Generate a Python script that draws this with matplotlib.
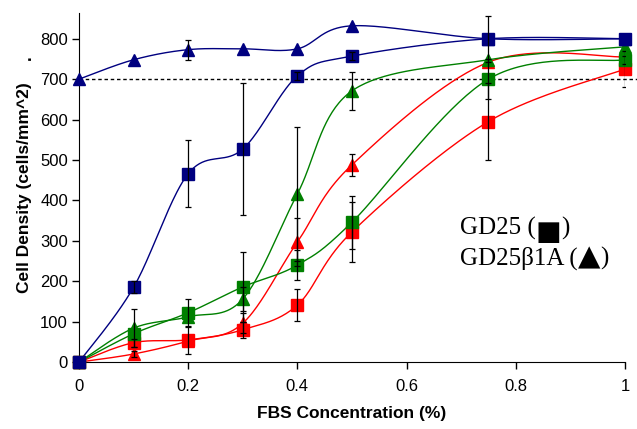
import numpy as np
import matplotlib.pyplot as plt

# datos
fbs = [0, 0.1, 0.2, 0.3, 0.4, 0.5, 0.75, 1]

gd25_azul = [0, 185, 466, 527, 708, 757, 800, 800]
gd25_azul_err = [0, 15, 83, 163, 10, 10, 57, 0]
b1a_azul = [700, 748, 773, 775, 775, 832, 800, 800]
b1a_azul_err = [0, 0, 25, 0, 0, 0, 0, 0]

gd25_verde = [0, 70, 122, 186, 240, 346, 700, 748]
gd25_verde_err = [0, 0, 35, 86, 38, 65, 50, 10]
b1a_verde = [0, 84, 112, 156, 416, 671, 748, 780]
b1a_verde_err = [0, 47, 0, 30, 165, 47, 0, 0]

gd25_rojo = [0, 48, 55, 80, 141, 322, 595, 725]
gd25_rojo_err = [0, 10, 35, 20, 40, 74, 95, 45]
b1a_rojo = [0, 20, 52, 96, 297, 488, 742, 755]
b1a_rojo_err = [0, 8, 0, 25, 60, 27, 0, 0]

xticks = [0, 0.2, 0.4, 0.6, 0.8, 1]
xtick_labels = ['0', '0.2', '0.4', '0.6', '0.8', '1']
yticks = [0, 100, 200, 300, 400, 500, 600, 700, 800]


def suavizar(xs, ys, n=40):
    # curva suavizada tipo Excel (Bezier por Catmull-Rom)
    P = np.column_stack([xs, ys]).astype(float)
    P = np.vstack([P[0], P, P[-1]])
    t = np.linspace(0, 1, n)[:, None]
    trozos = []
    for i in range(1, len(P) - 2):
        p0, p1, p2, p3 = P[i - 1], P[i], P[i + 1], P[i + 2]
        c1 = p1 + (p2 - p0) / 6
        c2 = p2 - (p3 - p1) / 6
        b = (1 - t)**3 * p1 + 3 * (1 - t)**2 * t * c1 + 3 * (1 - t) * t**2 * c2 + t**3 * p2
        trozos.append(b)
    return np.vstack(trozos)


plt.rcParams['font.family'] = ['Liberation Sans', 'DejaVu Sans']
fig = plt.figure(figsize=(6.37, 4.29), dpi=100)
ax = fig.add_axes([0.124, 0.156, 0.857, 0.814])

series = [
    (gd25_rojo, gd25_rojo_err, '#ff0000', 's'),
    (b1a_rojo, b1a_rojo_err, '#ff0000', '^'),
    (gd25_verde, gd25_verde_err, '#008000', 's'),
    (b1a_verde, b1a_verde_err, '#008000', '^'),
    (b1a_azul, b1a_azul_err, '#000080', '^'),
    (gd25_azul, gd25_azul_err, '#000080', 's'),
]

ax.plot([0, 1.025], [700, 700], color='black', lw=1, ls=(0, (2.5, 2)), clip_on=False, zorder=1)

for ys, errs, color, marker in series:
    curva = suavizar(fbs, ys)
    ax.plot(curva[:, 0], curva[:, 1], color=color, lw=1, zorder=2, clip_on=False)
    ax.plot(fbs, ys, ls='none', marker=marker, color=color, markersize=8.5, zorder=3, clip_on=False)

for ys, errs, color, marker in series:
    xs = [x for x, e in zip(fbs, errs) if e > 0]
    yv = [y for y, e in zip(ys, errs) if e > 0]
    ev = [e for e in errs if e > 0]
    ax.errorbar(xs, yv, yerr=ev, fmt='none', ecolor='black', elinewidth=0.9, capsize=2.5,
                capthick=0.9, zorder=4)

ax.set_xlim(0, 1)
ax.set_ylim(0, 864)
ax.set_xticks(xticks)
ax.set_xticklabels(xtick_labels)
ax.set_yticks(yticks)
ax.tick_params(direction='out', length=5, labelsize=12, width=1)
ax.tick_params(axis='x', pad=7)
ax.tick_params(axis='y', pad=3)
ax.spines['top'].set_visible(False)
ax.spines['right'].set_visible(False)

ax.set_xlabel('FBS Concentration (%)', fontsize=12.5, fontweight='bold', labelpad=9)
ax.set_ylabel('Cell Density (cells/mm^2)', fontsize=12.5, fontweight='bold', labelpad=6)
fig.text(0.030, 0.866, '.', fontsize=12, fontweight='bold', rotation=90)

# leyenda escrita como texto, por trozos
renderer = fig.canvas.get_renderer()
W = fig.get_figwidth() * fig.dpi
H = fig.get_figheight() * fig.dpi
serif = ['Liberation Serif', 'DejaVu Serif']


def fila(x, y, partes):
    for texto, size, fam, dy in partes:
        t = fig.text(x, y - dy / H, texto, fontsize=size, family=fam, va='baseline')
        x = t.get_window_extent(renderer).x1 / W


fila(0.722, 1 - 235 / 429, [('GD25 (', 18, serif, 0), ('\u25a0', 19.5, ['DejaVu Sans'], 5),
                            (')', 18, serif, 0)])
fila(0.722, 1 - 265 / 429, [('GD25\u03b21A (', 18, serif, 0), ('\u25b2', 21, ['DejaVu Sans'], 0),
                            (')', 18, serif, 0)])

fig.savefig('out.png', dpi=100)
